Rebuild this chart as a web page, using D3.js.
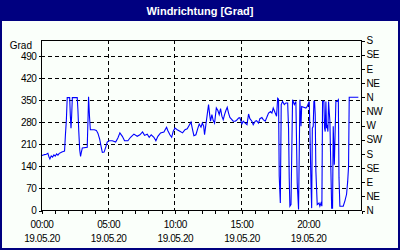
<!DOCTYPE html>
<html>
<head>
<meta charset="utf-8">
<script src="https://cdn.jsdelivr.net/npm/d3@7"></script>
<style>
  body { margin: 0; background: #fafffa; }
  svg text { font-family: "Liberation Sans", Arial, sans-serif; font-size: 10px; fill: #000; }
  .axis text { letter-spacing: -0.4px; }
</style>
</head>
<body>
<div id="chart"></div>
<script>
// minutes since 00:00 on 19.05.20 and wind direction in degrees
var minutes = [0, 8, 16, 24, 31, 36, 40, 46, 52, 58, 64, 70, 76, 82, 88, 94, 100, 106, 110, 114,
  118, 129, 132, 135, 138, 141, 163, 166, 170, 174, 178, 182, 186, 208, 212, 214, 218, 222, 240, 249,
  256, 264, 271, 276, 284, 291, 298, 306, 321, 336, 346, 355, 366, 376, 391, 403, 418, 433, 445, 457,
  466, 478, 487, 496, 508, 517, 526, 538, 553, 565, 571, 580, 588, 595, 603, 613, 625, 637, 648, 658,
  667, 675, 682, 688, 697, 706, 712, 720, 726, 732, 736, 742, 748, 754, 759, 763, 769, 775, 781, 789,
  796, 802, 808, 814, 820, 826, 832, 838, 844, 850, 859, 865, 874, 880, 889, 895, 904, 910, 919, 927,
  934, 940, 949, 955, 964, 970, 979, 985, 994, 1000, 1009, 1015, 1024, 1033, 1039, 1045, 1054, 1060, 1065, 1069,
  1072, 1077, 1081, 1087, 1095, 1102, 1110, 1114, 1117, 1120, 1125, 1132, 1140, 1147, 1153, 1159, 1165, 1170, 1173, 1192,
  1198, 1204, 1207, 1210, 1215, 1218, 1221, 1225, 1228, 1231, 1234, 1237, 1243, 1251, 1255, 1260, 1264, 1267, 1273, 1276,
  1279, 1282, 1285, 1288, 1291, 1294, 1300, 1308, 1312, 1315, 1320, 1327, 1333, 1338, 1341, 1345, 1360, 1368, 1375, 1380,
  1384, 1387, 1428];
var grad = [172, 174, 176, 177, 180, 168, 162, 172, 168, 175, 171, 178, 174, 180, 182, 184, 186, 187, 240, 283,
  357, 357, 300, 260, 300, 357, 357, 320, 250, 192, 170, 185, 197, 199, 300, 360, 300, 255, 255, 253,
  244, 225, 200, 183, 184, 199, 216, 220, 220, 216, 229, 245, 234, 220, 220, 231, 241, 234, 239, 248,
  237, 241, 231, 239, 231, 220, 234, 245, 248, 263, 252, 239, 231, 250, 260, 255, 250, 245, 255, 258,
  269, 279, 255, 236, 239, 260, 273, 263, 276, 266, 239, 271, 303, 335, 303, 282, 303, 284, 276, 324,
  316, 303, 322, 298, 287, 303, 316, 326, 308, 294, 287, 282, 282, 285, 292, 293, 273, 282, 276, 271,
  305, 290, 282, 271, 282, 284, 276, 290, 294, 287, 282, 292, 308, 313, 308, 324, 308, 298, 355, 352,
  107, 22, 335, 345, 335, 340, 340, 260, 102, 12, 17, 350, 335, 345, 86, 2, 350, 266, 329, 324,
  329, 340, 345, 260, 80, 6, 260, 266, 345, 345, 303, 123, 17, 22, 12, 22, 12, 345, 345, 260,
  249, 345, 260, 271, 249, 345, 282, 6, 6, 266, 144, 345, 345, 350, 102, 12, 12, 30, 50, 90,
  138, 358, 358];

var gradTicks = [0, 70, 140, 210, 280, 350, 420, 490];
var compass = ['N', 'NE', 'E', 'SE', 'S', 'SW', 'W', 'NW', 'N', 'NE', 'E', 'SE', 'S'];
var hourLabels = ['00:00', '05:00', '10:00', '15:00', '20:00'];
var dateLabel = '19.05.20';

var width = 400, height = 250;
var plotLeft = 41, plotRight = 361, plotTop = 40, plotBottom = 210;

var svg = d3.select('#chart')
  .append('svg')
  .attr('width', width)
  .attr('height', height);

svg.append('rect')
  .attr('width', width)
  .attr('height', height)
  .attr('fill', '#fafffa');

// title bar
svg.append('rect')
  .attr('width', width)
  .attr('height', 21)
  .attr('fill', '#000080');
svg.append('text')
  .attr('x', width / 2)
  .attr('y', 15)
  .attr('text-anchor', 'middle')
  .style('font-size', '11px')
  .style('font-weight', 'bold')
  .style('fill', '#fff')
  .text('Windrichtung [Grad]');

// outer frame
svg.append('rect')
  .attr('x', 1).attr('y', 1)
  .attr('width', width - 2).attr('height', height - 2)
  .attr('fill', 'none')
  .attr('stroke', '#000080')
  .attr('stroke-width', 2);

var x = d3.scaleLinear().domain([0, 1440]).range([plotLeft, plotRight]);
var y = d3.scaleLinear().domain([0, 540]).range([plotBottom, plotTop]);

function px(v) { return Math.round(v) + 0.5; }

// grid
var grid = svg.append('g')
  .attr('stroke', '#000')
  .attr('stroke-dasharray', '4,3')
  .attr('shape-rendering', 'crispEdges');
grid.selectAll('.hgrid')
  .data(gradTicks.slice(1))
  .enter()
  .append('line')
  .attr('x1', plotLeft).attr('x2', plotRight)
  .attr('y1', function(d) { return px(y(d)); })
  .attr('y2', function(d) { return px(y(d)); });
grid.selectAll('.vgrid')
  .data(hourLabels.slice(1))
  .enter()
  .append('line')
  .attr('x1', function(d, i) { return px(x((i + 1) * 300)); })
  .attr('x2', function(d, i) { return px(x((i + 1) * 300)); })
  .attr('y1', plotTop).attr('y2', plotBottom);

// data line
var line = d3.line()
  .x(function(d, i) { return x(minutes[i]); })
  .y(function(d) { return y(d); });

svg.append('path')
  .datum(grad)
  .attr('d', line)
  .attr('fill', 'none')
  .attr('stroke', '#0000ff')
  .attr('stroke-width', 1.1);

// frame of plot
svg.append('rect')
  .attr('x', plotLeft + 0.5).attr('y', plotTop + 0.5)
  .attr('width', plotRight - plotLeft).attr('height', plotBottom - plotTop)
  .attr('fill', 'none')
  .attr('stroke', '#000')
  .attr('shape-rendering', 'crispEdges');

// axes
var yAxis = d3.axisLeft(y).tickValues(gradTicks).tickSize(3).tickPadding(2);
var gy = svg.append('g').attr('transform', 'translate(' + (plotLeft + 0.5) + ',0.5)').call(yAxis);

var cAxis = d3.axisRight(y)
  .tickValues(compass.map(function(d, i) { return i * 45; }))
  .tickFormat(function(d) { return compass[d / 45]; })
  .tickSize(3).tickPadding(2);
var gc = svg.append('g').attr('transform', 'translate(' + (plotRight + 0.5) + ',0.5)').call(cAxis);

var minorAxis = d3.axisBottom(x).tickValues(d3.range(0, 1441, 60)).tickSize(3).tickFormat('');
var gm = svg.append('g').attr('transform', 'translate(0.5,' + (plotBottom + 0.5) + ')').call(minorAxis);

var xAxis = d3.axisBottom(x)
  .tickValues(hourLabels.map(function(d, i) { return i * 300; }))
  .tickFormat(function(d) { return hourLabels[d / 300]; })
  .tickSize(3).tickPadding(7.5);
var gx = svg.append('g').attr('transform', 'translate(0.5,' + (plotBottom + 0.5) + ')').call(xAxis);
gx.selectAll('.tick')
  .append('text')
  .attr('y', 24.5)
  .attr('dy', '0.71em')
  .attr('fill', '#000')
  .text(dateLabel);

[gy, gc, gm, gx].forEach(function(g) {
  g.select('.domain').remove();
  g.attr('class', 'axis').attr('font-family', null).attr('font-size', null);
  g.selectAll('line').attr('shape-rendering', 'crispEdges');
});

svg.append('text')
  .attr('x', 32)
  .attr('y', 49)
  .attr('text-anchor', 'end')
  .text('Grad');
</script>
</body>
</html>
